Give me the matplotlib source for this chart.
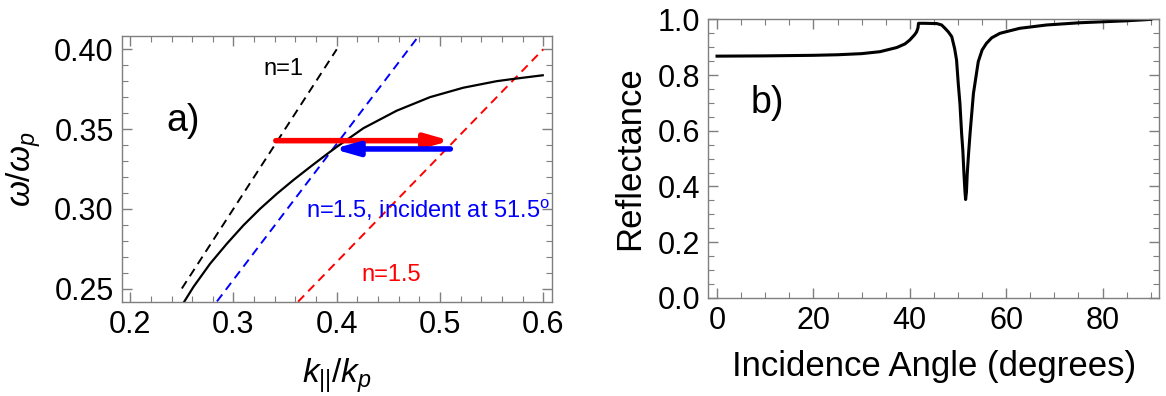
import matplotlib

matplotlib.use("Agg")
import matplotlib.pyplot as plt
from matplotlib.ticker import FormatStrFormatter, MultipleLocator

plt.rcParams["font.family"] = ["Liberation Sans", "DejaVu Sans"]
plt.rcParams["mathtext.fontset"] = "custom"
plt.rcParams["mathtext.rm"] = "Liberation Sans"
plt.rcParams["mathtext.it"] = "Liberation Sans:italic"

# panel a) surface plasmon dispersion
sp_k = [0.2516, 0.2612, 0.2774, 0.2936, 0.3096, 0.3258, 0.3420, 0.3580, 0.3742,
        0.3904, 0.4000, 0.4258, 0.4581, 0.4904, 0.5226, 0.5549, 0.5710, 0.5995]
sp_w = [0.2410, 0.2510, 0.2656, 0.2781, 0.2896, 0.3000, 0.3094, 0.3180, 0.3262,
        0.3342, 0.3388, 0.3505, 0.3615, 0.3700, 0.3759, 0.3800, 0.3814, 0.3837]

# light lines (end points)
air_k = [0.25, 0.40]
air_w = [0.25, 0.40]
glass_inc_k = [0.284, 0.481]
glass_inc_w = [0.2419, 0.4097]
glass_k = [0.3625, 0.600]
glass_w = [0.2417, 0.400]

# arrows: (k_start, k_end, omega)
red_arrow = (0.341, 0.510, 0.3427)
blue_arrow = (0.510, 0.3968, 0.3375)

# panel b) reflectance vs incidence angle
angle = [0, 10, 20, 25, 30, 33.8, 37.3, 39, 40.0, 41.0, 41.4, 41.7, 41.8, 43, 45.6,
         46.6, 47.3, 48.0, 48.7, 49.3, 49.7, 50.05, 50.4, 50.75, 51.0, 51.23, 51.45,
         51.58, 51.75, 51.92, 52.2, 52.5, 53.2, 54.2, 55.0, 55.9, 57.0, 58.7, 60.5,
         62.8, 68.4, 75.3, 79.4, 85, 90]
refl = [0.868, 0.869, 0.871, 0.873, 0.877, 0.884, 0.899, 0.912, 0.926, 0.945, 0.955,
        0.970, 0.986, 0.986, 0.985, 0.980, 0.968, 0.955, 0.938, 0.895, 0.854, 0.770,
        0.698, 0.590, 0.530, 0.447, 0.380, 0.353, 0.380, 0.447, 0.520, 0.590, 0.734,
        0.848, 0.890, 0.914, 0.934, 0.950, 0.958, 0.968, 0.980, 0.988, 0.991, 0.995, 1.0]

FRAME = "#7f7f7f"


def style_frame(ax):
    for spine in ax.spines.values():
        spine.set_color(FRAME)
        spine.set_linewidth(1.0)
    ax.tick_params(which="both", direction="in", top=True, right=True, color=FRAME,
                   labelsize=22, pad=6)
    ax.tick_params(which="major", length=7, width=1.0)
    ax.tick_params(which="minor", length=4, width=0.8)


fig = plt.figure(figsize=(11.66, 3.96), dpi=100)
ax1 = fig.add_axes([0.1046, 0.238, 0.3684, 0.671])
ax2 = fig.add_axes([0.6075, 0.248, 0.3869, 0.703])

# --- panel a)
dash = (0, (4.5, 3))
ax1.plot(air_k, air_w, color="black", lw=1.4, linestyle=dash)
ax1.plot(glass_inc_k, glass_inc_w, color="blue", lw=1.4, linestyle=dash)
ax1.plot(glass_k, glass_w, color="red", lw=1.4, linestyle=dash)
ax1.plot(sp_k, sp_w, color="black", lw=1.6)

for (k0, k1, w), col in ((red_arrow, "red"), (blue_arrow, "blue")):
    ax1.annotate("", xy=(k1, w), xytext=(k0, w),
                 arrowprops=dict(arrowstyle="-|>,head_length=0.7,head_width=0.2",
                                 mutation_scale=20, color=col, lw=4,
                                 shrinkA=0, shrinkB=0))

ax1.text(0.3484, 0.3875, "n=1", fontsize=17, ha="center", va="center")
ax1.text(0.251, 0.355, "a)", fontsize=27, ha="center", va="center")
ax1.text(0.370, 0.2989, "n=1.5, incident at 51.5$^{\\mathrm{o}}$", fontsize=17,
         color="blue", ha="left", va="center")
ax1.text(0.4526, 0.2583, "n=1.5", fontsize=17, color="red", ha="center", va="center")

ax1.set_xlim(0.192, 0.608)
ax1.set_ylim(0.2417, 0.4083)
ax1.xaxis.set_major_locator(MultipleLocator(0.1))
ax1.xaxis.set_minor_locator(MultipleLocator(0.02))
ax1.yaxis.set_major_locator(MultipleLocator(0.05))
ax1.yaxis.set_minor_locator(MultipleLocator(0.01))
ax1.xaxis.set_major_formatter(FormatStrFormatter("%.1f"))
ax1.yaxis.set_major_formatter(FormatStrFormatter("%.2f"))
style_frame(ax1)
ax1.set_xlabel("$k_{||}/k_p$", fontsize=24, labelpad=12)
ax1.set_ylabel("$\\omega/\\omega_p$", fontsize=24, labelpad=8)

# --- panel b)
ax2.plot(angle, refl, color="black", lw=2.2)
ax2.text(10.4, 0.70, "b)", fontsize=27, ha="center", va="center")
ax2.set_xlim(-1.8, 91.8)
ax2.set_ylim(0, 1)
ax2.xaxis.set_major_locator(MultipleLocator(20))
ax2.xaxis.set_minor_locator(MultipleLocator(5))
ax2.yaxis.set_major_locator(MultipleLocator(0.2))
ax2.yaxis.set_minor_locator(MultipleLocator(0.05))
ax2.yaxis.set_major_formatter(FormatStrFormatter("%.1f"))
style_frame(ax2)
ax2.set_xlabel("Incidence Angle (degrees)", fontsize=25, labelpad=10)
ax2.set_ylabel("Reflectance", fontsize=25, labelpad=8)

fig.savefig("out.png", dpi=100)
